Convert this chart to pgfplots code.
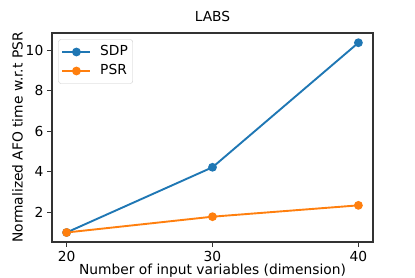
\documentclass[border=0pt]{standalone}
\usepackage{pgfplots}
\pgfplotsset{compat=1.18}
\usepackage{fontspec}
\setmainfont{DejaVu Sans}
\definecolor{mplblue}{HTML}{1F77B4}
\definecolor{mplorange}{HTML}{FF7F0E}
\newcommand{\fs}{\fontsize{13.8}{16}\selectfont}
\pgfplotsset{mylegend/.style={legend image code/.code={\draw[mark repeat=2,mark phase=2,##1] plot coordinates {(0pt,0pt) (14pt,0pt) (28pt,0pt)}; \path (0pt,0pt) (35pt,0pt);}}}
\begin{document}
\fs
\begin{tikzpicture}[x=1pt,y=1pt]
\path[clip, use as bounding box] (-52,-35) rectangle (363,242);
\begin{axis}[
  at={(0,0)}, anchor=south west,
  scale only axis, width=321pt, height=209pt,
  xmin=19, xmax=41, ymin=0.53, ymax=10.85,
  xtick={20,30,40}, ytick={2,4,6,8,10},
  tick align=outside, tick pos=left,
  major tick length=4.5pt,
  every tick/.style={black!80, line width=1.1pt},
  axis line style={black!80, line width=1.1pt},
  /pgf/number format/assume math mode=true,
  tick label style={font=\fs},
  xticklabel style={inner sep=0pt, yshift=-4.5pt},
  yticklabel style={inner sep=0pt, xshift=-4pt},
  label style={font=\fs},
  title={LABS},
  title style={at={(axis description cs:0.5,1)}, anchor=base, yshift=6pt, inner sep=0pt, font=\fs},
  xlabel={Number of input variables (dimension)},
  ylabel={Normalized AFO time w.r.t PSR},
  xlabel style={at={(axis description cs:0.5,0)}, anchor=base, yshift=-32pt, inner sep=0pt},
  ylabel style={yshift=-2pt},
  legend cell align=left,
  legend style={at={(0,1)}, anchor=north west, xshift=6.3pt, yshift=-6.3pt,
    draw=black!20, rounded corners=2.5pt, font=\fs,
    inner xsep=3pt, inner ysep=4.2pt, row sep=2.4pt,
    nodes={inner sep=1.8pt, text height=10pt, text depth=3pt, font=\fs}},
]
\addplot[mplblue, line width=1.9pt, mark=*, mark size=3.4pt, mylegend]
  coordinates {(20,1.0) (30,4.22) (40,10.37)};
\addlegendentry{SDP}
\addplot[mplorange, line width=1.9pt, mark=*, mark size=3.4pt, mylegend]
  coordinates {(20,1.0) (30,1.78) (40,2.34)};
\addlegendentry{PSR}
\end{axis}
\end{tikzpicture}
\end{document}
